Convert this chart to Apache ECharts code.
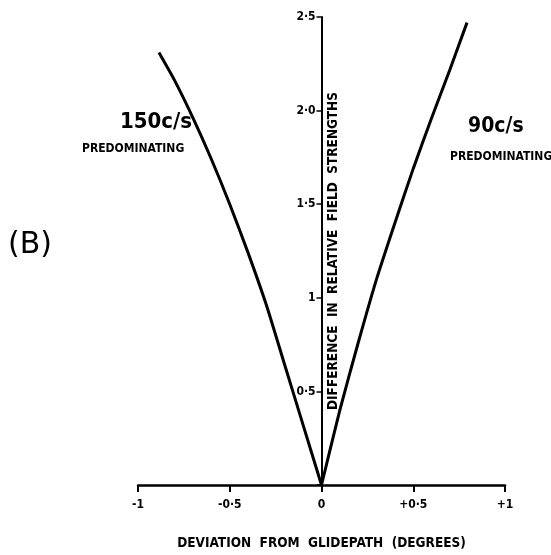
<!DOCTYPE html>
<html><head><meta charset="utf-8">
<script src="https://cdn.jsdelivr.net/npm/echarts@6/dist/echarts.min.js"></script>
<style>html,body{margin:0;padding:0;background:#fff}#c{width:551px;height:555px}</style>
</head><body><div id="c"></div>
<script>
// Left branch (150 c/s predominating)
const leftX = [0, -0.1, -0.2, -0.3, -0.4, -0.5, -0.6, -0.7, -0.8, -0.886];
const leftY = [0, 0.32, 0.64, 0.96, 1.24, 1.50, 1.74, 1.96, 2.16, 2.31];
// Right branch (90 c/s predominating)
const rightX = [0, 0.1, 0.2, 0.3, 0.4, 0.5, 0.6, 0.7, 0.793];
const rightY = [0, 0.40, 0.76, 1.10, 1.40, 1.69, 1.96, 2.22, 2.47];
// Tick values and labels
const xTicks = [-1, -0.5, 0, 0.5, 1];
const xTickLabels = ['-1', '-0·5', '0', '+0·5', '+1'];
const yTicks = [0, 0.5, 1, 1.5, 2, 2.5];
const yTickLabels = ['', '0·5', '1', '1·5', '2·0', '2·5'];

const F = '"DejaVu Sans Condensed","DejaVu Sans",sans-serif';
function lab(ticks, labels, v) {
  for (let i = 0; i < ticks.length; i++) if (Math.abs(ticks[i] - v) < 1e-9) return labels[i];
  return '';
}
const chart = echarts.init(document.getElementById('c'));
chart.setOption({
  animation: false,
  backgroundColor: '#fff',
  grid: { left: 138, right: 46, top: 17, bottom: 70 },
  xAxis: {
    type: 'value', min: -1, max: 1, interval: 0.5,
    splitLine: { show: false },
    axisLine: { onZero: true, lineStyle: { color: '#000', width: 2.5 } },
    axisTick: { show: true, inside: false, length: 7, lineStyle: { color: '#000', width: 2 } },
    axisLabel: { color: '#000', fontFamily: F, fontWeight: 'bold', fontSize: 12, margin: 14,
      formatter: v => lab(xTicks, xTickLabels, v) },
    name: 'DEVIATION  FROM  GLIDEPATH  (DEGREES)',
    nameLocation: 'middle', nameGap: 51,
    nameTextStyle: { color: '#000', fontFamily: F, fontWeight: 'bold', fontSize: 13.5 }
  },
  yAxis: {
    type: 'value', min: 0, max: 2.5, interval: 0.5,
    offset: -183.5,
    splitLine: { show: false },
    axisLine: { onZero: false, lineStyle: { color: '#000', width: 2 } },
    axisTick: { show: true, length: 5, lineStyle: { color: '#000', width: 1.5 } },
    axisLabel: { color: '#000', fontFamily: F, fontWeight: 'bold', fontSize: 12, margin: 6,
      formatter: v => lab(yTicks, yTickLabels, v) },
    name: 'DIFFERENCE  IN  RELATIVE  FIELD  STRENGTHS',
    nameLocation: 'middle', nameGap: -19, nameRotate: 90, nameMoveOverlap: false,
    nameTextStyle: { color: '#000', fontFamily: F, fontWeight: 'bold', fontSize: 13.5 }
  },
  series: [
    { type: 'line', data: leftX.map((x, i) => [x, leftY[i]]), smooth: 0.2, showSymbol: false, symbol: 'none',
      lineStyle: { color: '#000', width: 3 } },
    { type: 'line', data: rightX.map((x, i) => [x, rightY[i]]), smooth: 0.2, showSymbol: false, symbol: 'none',
      lineStyle: { color: '#000', width: 3 } }
  ],
  graphic: [
    { type: 'text', left: 8, top: 230, style: { text: '(B)', font: 'normal 30px "DejaVu Sans"', fill: '#000' } },
    { type: 'text', left: 120, top: 111, style: { text: '150c/s', font: 'bold 22px "DejaVu Sans Condensed"', fill: '#000' } },
    { type: 'text', left: 82, top: 143, style: { text: 'PREDOMINATING', font: 'bold 12px "DejaVu Sans Condensed"', fill: '#000' } },
    { type: 'text', left: 468, top: 116, style: { text: '90c/s', font: 'bold 21px "DejaVu Sans Condensed"', fill: '#000' } },
    { type: 'text', left: 450, top: 151, style: { text: 'PREDOMINATING', font: 'bold 12px "DejaVu Sans Condensed"', fill: '#000' } }
  ]
});
</script></body></html>
